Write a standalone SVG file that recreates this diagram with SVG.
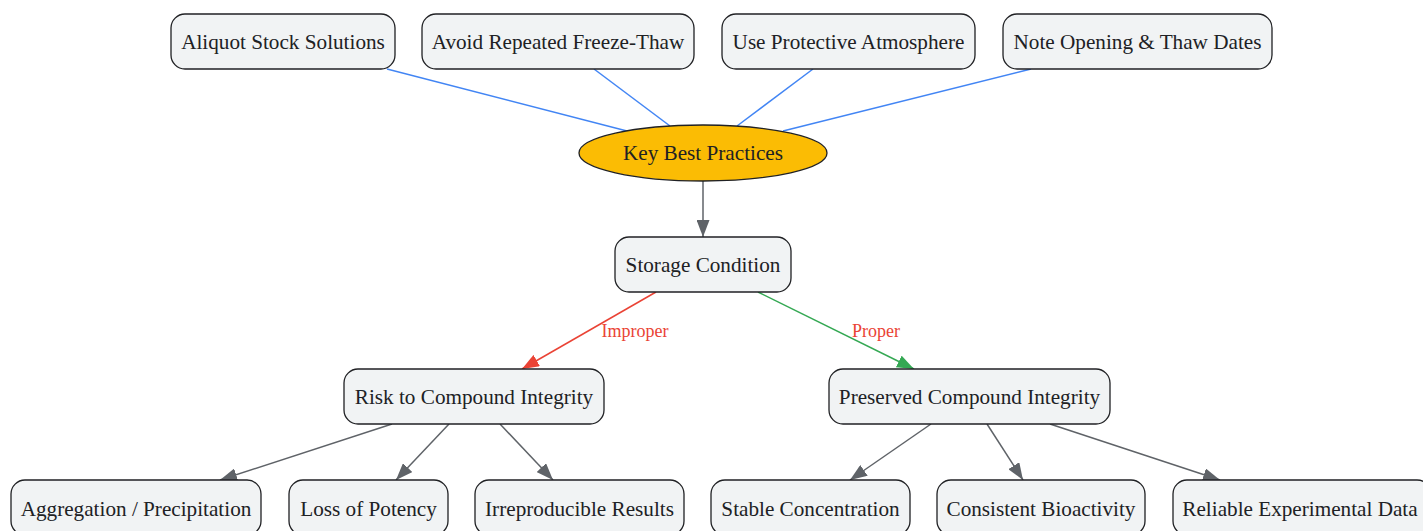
<svg xmlns="http://www.w3.org/2000/svg" width="1423" height="531" viewBox="0 0 1423 531">
<style>
.n rect{fill:#f1f3f4;stroke:#202124;stroke-width:1.3}
.n ellipse{fill:#fbbc04;stroke:#202124;stroke-width:1.3}
.n text{font-family:"Liberation Serif","Times New Roman",serif;font-size:21.2px;fill:#202124;text-anchor:middle;dominant-baseline:central}
.e line{fill:none;stroke-width:1.5}
.blue{stroke:#4285f4}
.grey{stroke:#5f6368}
.red{stroke:#ea4335}
.green{stroke:#34a853}
.lbl{font-family:"Liberation Serif","Times New Roman",serif;font-size:18px;fill:#ea4335;text-anchor:middle;dominant-baseline:central}
</style>
<defs>
<marker id="ag" viewBox="0 0 17 13" refX="17" refY="6.5" markerWidth="17" markerHeight="13" markerUnits="userSpaceOnUse" orient="auto"><path d="M0,0L17,6.5L0,13z" fill="#5f6368"/></marker>
<marker id="ar" viewBox="0 0 17 13" refX="17" refY="6.5" markerWidth="17" markerHeight="13" markerUnits="userSpaceOnUse" orient="auto"><path d="M0,0L17,6.5L0,13z" fill="#ea4335"/></marker>
<marker id="agr" viewBox="0 0 17 13" refX="17" refY="6.5" markerWidth="17" markerHeight="13" markerUnits="userSpaceOnUse" orient="auto"><path d="M0,0L17,6.5L0,13z" fill="#34a853"/></marker>
</defs>
<rect width="1423" height="531" fill="#ffffff"/>
<g id="connectors" class="e">
<line class="blue" x1="387" y1="69" x2="627" y2="131"/>
<line class="blue" x1="594" y1="69" x2="670" y2="126"/>
<line class="blue" x1="813" y1="69" x2="737" y2="126"/>
<line class="blue" x1="1031" y1="69" x2="783" y2="131"/>
<line class="grey" x1="703" y1="181" x2="703" y2="237" marker-end="url(#ag)"/>
<line class="red" x1="656" y1="292" x2="522" y2="369" marker-end="url(#ar)"/>
<line class="green" x1="758" y1="292" x2="914" y2="369" marker-end="url(#agr)"/>
<line class="grey" x1="392" y1="424" x2="220" y2="480" marker-end="url(#ag)"/>
<line class="grey" x1="449" y1="424" x2="396" y2="480" marker-end="url(#ag)"/>
<line class="grey" x1="500" y1="424" x2="553" y2="480" marker-end="url(#ag)"/>
<line class="grey" x1="931" y1="424" x2="850" y2="480" marker-end="url(#ag)"/>
<line class="grey" x1="987" y1="424" x2="1023" y2="480" marker-end="url(#ag)"/>
<line class="grey" x1="1050" y1="424" x2="1220" y2="480" marker-end="url(#ag)"/>
<text class="lbl" x="635" y="331">Improper</text>
<text class="lbl" x="876" y="331">Proper</text>
</g>
<g id="aliquot" class="n"><rect x="171" y="14" width="224" height="55" rx="14"/><text x="283" y="41.5">Aliquot Stock Solutions</text></g>
<g id="avoid" class="n"><rect x="422" y="14" width="272" height="55" rx="14"/><text x="558" y="41.5">Avoid Repeated Freeze-Thaw</text></g>
<g id="protective" class="n"><rect x="722" y="14" width="253" height="55" rx="14"/><text x="848.5" y="41.5">Use Protective Atmosphere</text></g>
<g id="note" class="n"><rect x="1003" y="14" width="269" height="55" rx="14"/><text x="1137.5" y="41.5">Note Opening &amp; Thaw Dates</text></g>
<g id="key" class="n"><ellipse cx="703" cy="153" rx="124" ry="28"/><text x="703" y="153">Key Best Practices</text></g>
<g id="storage" class="n"><rect x="615" y="237" width="176" height="55" rx="14"/><text x="703" y="264.5">Storage Condition</text></g>
<g id="risk" class="n"><rect x="344" y="369" width="260" height="55" rx="14"/><text x="474" y="396.5">Risk to Compound Integrity</text></g>
<g id="preserved" class="n"><rect x="829" y="369" width="281" height="55" rx="14"/><text x="969.5" y="396.5">Preserved Compound Integrity</text></g>
<g id="aggregation" class="n"><rect x="11" y="480" width="250" height="55" rx="14"/><text x="136" y="508.5">Aggregation / Precipitation</text></g>
<g id="loss" class="n"><rect x="289" y="480" width="159" height="55" rx="14"/><text x="368.5" y="508.5">Loss of Potency</text></g>
<g id="irreproducible" class="n"><rect x="475" y="480" width="209" height="55" rx="14"/><text x="579.5" y="508.5">Irreproducible Results</text></g>
<g id="stable" class="n"><rect x="711" y="480" width="199" height="55" rx="14"/><text x="810.5" y="508.5">Stable Concentration</text></g>
<g id="consistent" class="n"><rect x="937" y="480" width="208" height="55" rx="14"/><text x="1041" y="508.5">Consistent Bioactivity</text></g>
<g id="reliable" class="n"><rect x="1173" y="480" width="258" height="55" rx="14"/><text x="1300" y="508.5">Reliable Experimental Data</text></g>
</svg>
